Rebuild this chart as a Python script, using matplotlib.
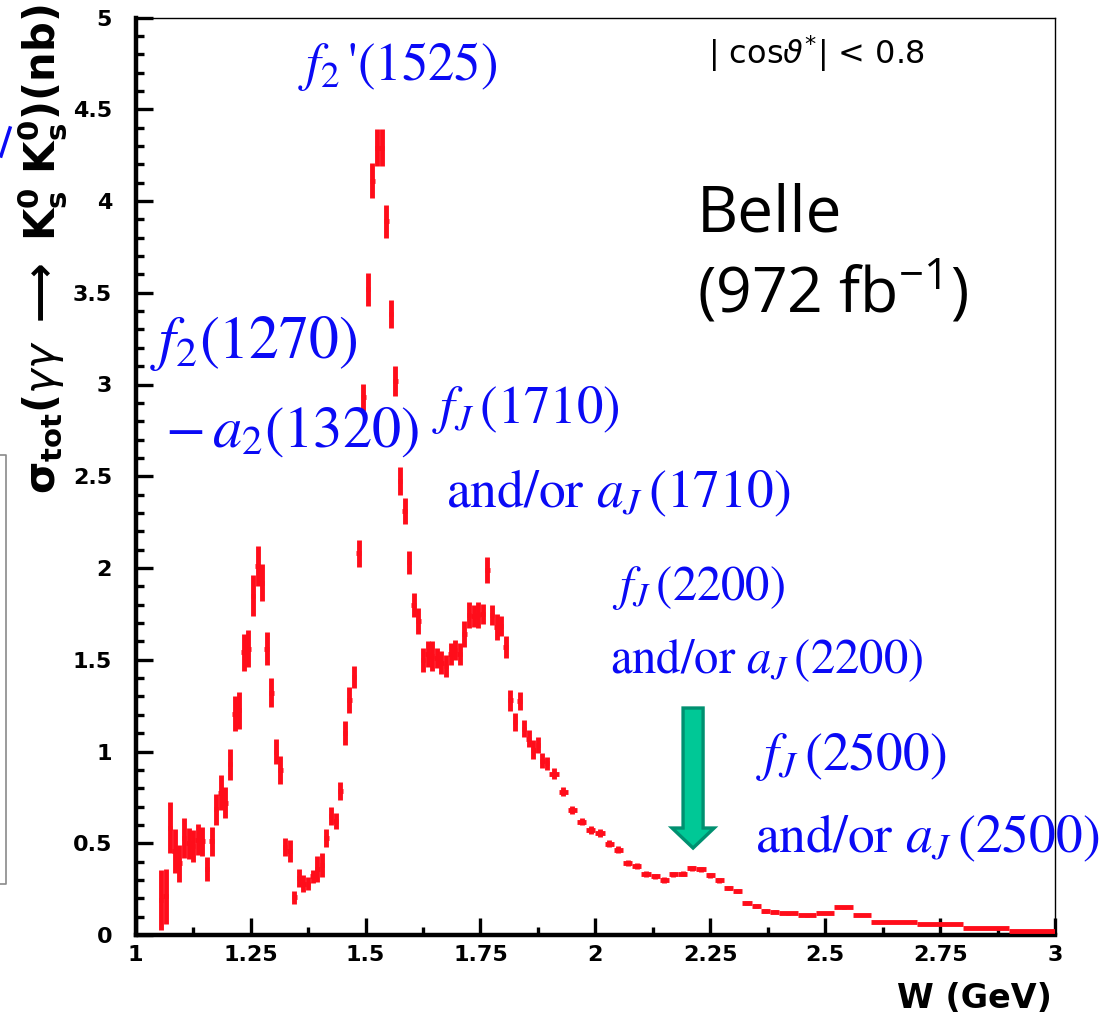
import numpy as np
import matplotlib
matplotlib.use("Agg")
import matplotlib.pyplot as plt
from matplotlib.patches import FancyArrow
from matplotlib.lines import Line2D
from matplotlib.ticker import MultipleLocator

# ---------------------------------------------------------------------------
# Cross section sigma_tot(gg -> KsKs) in nb versus W (GeV), |cos theta*| < 0.8
# Four binning regions: 10, 20, 40 and 100 MeV wide bins.
# ---------------------------------------------------------------------------
w_start_10, w_step_10 = 1.05, 0.01
sigma_10 = [0.19, 0.21, 0.585, 0.46, 0.39, 0.53, 0.50, 0.485, 0.52, 0.51,
            0.36, 0.51, 0.685, 0.775, 0.72, 0.93, 1.205, 1.225, 1.54, 1.56,
            1.85, 2.01, 1.92, 1.56, 1.32, 1.00, 0.90, 0.48, 0.46, 0.205,
            0.31, 0.28, 0.28, 0.32, 0.36, 0.38, 0.53, 0.65, 0.62, 0.785,
            1.10, 1.28, 1.405, 2.08, 2.93, 3.52, 4.11, 4.29, 4.29, 3.89,
            3.385, 3.02, 2.475, 2.31, 2.03, 1.80, 1.71, 1.50, 1.53, 1.52,
            1.51, 1.485, 1.465, 1.53, 1.555, 1.53, 1.64, 1.745, 1.74, 1.745,
            1.75, 1.99, 1.745, 1.68, 1.685, 1.57, 1.28, 1.16, 1.275, 1.125,
            1.07, 1.01, 1.035, 0.95, 0.935]
err_10 = [0.165, 0.15, 0.14, 0.12, 0.10, 0.11, 0.085, 0.085, 0.085, 0.08,
          0.065, 0.08, 0.085, 0.095, 0.085, 0.085, 0.095, 0.10, 0.10, 0.10,
          0.11, 0.11, 0.10, 0.09, 0.08, 0.07, 0.075, 0.05, 0.06, 0.035,
          0.05, 0.045, 0.035, 0.035, 0.07, 0.065, 0.05, 0.05, 0.045, 0.05,
          0.065, 0.07, 0.06, 0.075, 0.075, 0.09, 0.095, 0.10, 0.10, 0.09,
          0.075, 0.08, 0.075, 0.07, 0.06, 0.065, 0.07, 0.065, 0.07, 0.08,
          0.055, 0.06, 0.06, 0.06, 0.055, 0.06, 0.07, 0.07, 0.06, 0.07,
          0.055, 0.07, 0.055, 0.07, 0.055, 0.06, 0.057, 0.05, 0.05, 0.045,
          0.045, 0.05, 0.045, 0.04, 0.035]

w_start_20, w_step_20 = 1.90, 0.02
sigma_20 = [0.88, 0.78, 0.68, 0.617, 0.572, 0.555, 0.497, 0.465, 0.392, 0.378,
            0.332, 0.319, 0.30, 0.332, 0.333, 0.363, 0.358, 0.325, 0.298, 0.257,
            0.241, 0.176, 0.158, 0.13, 0.128]
err_20 = [0.03, 0.025, 0.022, 0.02, 0.02, 0.02, 0.018, 0.018, 0.016, 0.016,
          0.015, 0.015, 0.014, 0.014, 0.014, 0.014, 0.014, 0.013, 0.013, 0.012,
          0.012, 0.011, 0.011, 0.010, 0.010]

w_start_40, w_step_40 = 2.40, 0.04
sigma_40 = [0.118, 0.108, 0.12, 0.15, 0.108]
err_40 = [0.008, 0.008, 0.008, 0.008, 0.007]

w_start_100, w_step_100 = 2.60, 0.10
sigma_100 = [0.073, 0.06, 0.04, 0.022]
err_100 = [0.006, 0.005, 0.005, 0.004]

x_ticks = [1, 1.25, 1.5, 1.75, 2, 2.25, 2.5, 2.75, 3]
x_tick_labels = ["1", "1.25", "1.5", "1.75", "2", "2.25", "2.5", "2.75", "3"]
y_ticks = [0, 0.5, 1, 1.5, 2, 2.5, 3, 3.5, 4, 4.5, 5]
y_tick_labels = ["0", "0.5", "1", "1.5", "2", "2.5", "3", "3.5", "4", "4.5", "5"]

RED = "#ff0d1a"
BLUE = "#0a0af5"

W_PX, H_PX = 1120, 1018
fig = plt.figure(figsize=(W_PX / 100, H_PX / 100), dpi=100)


def fpos(x, y):
    """Pixel position (from top-left) -> figure fraction."""
    return x / W_PX, 1 - y / H_PX


ax_l, ax_r, ax_b, ax_t = 135.7, 1055.0, 935.0, 17.5
ax = fig.add_axes([ax_l / W_PX, 1 - ax_b / H_PX,
                   (ax_r - ax_l) / W_PX, (ax_b - ax_t) / H_PX])


def draw_region(start, step, values, errors):
    centers = start + step * (np.arange(len(values)) + 0.5)
    ax.errorbar(centers, values, xerr=np.full(len(values), step / 2),
                yerr=errors, fmt="none", ecolor=RED, elinewidth=3.5,
                capsize=0, zorder=3)


draw_region(w_start_10, w_step_10, sigma_10, err_10)
draw_region(w_start_20, w_step_20, sigma_20, err_20)
draw_region(w_start_40, w_step_40, sigma_40, err_40)
draw_region(w_start_100, w_step_100, sigma_100, err_100)

ax.set_xlim(1, 3)
ax.set_ylim(0, 5)

for side, lw in (("left", 3.2), ("bottom", 3.2), ("top", 1.0), ("right", 1.0)):
    ax.spines[side].set_linewidth(lw)
    ax.spines[side].set_color("black")

ax.set_xticks(x_ticks, x_tick_labels)
ax.set_yticks(y_ticks, y_tick_labels)
ax.xaxis.set_minor_locator(MultipleLocator(0.125))
ax.yaxis.set_minor_locator(MultipleLocator(0.1))
ax.tick_params(which="both", direction="in", top=False, right=False, width=2.4)
ax.tick_params(which="major", length=12)
ax.tick_params(which="minor", length=6)
ax.tick_params(axis="y", which="major", pad=17)
ax.tick_params(axis="x", which="major", pad=7)
for lab in ax.get_xticklabels() + ax.get_yticklabels():
    lab.set_fontfamily("DejaVu Sans")
    lab.set_fontweight("bold")
    lab.set_fontsize(16)

# Axis titles
fig.text(*fpos(1052, 1008), "W (GeV)", ha="right", va="baseline",
         fontsize=24, fontweight="bold", fontfamily="DejaVu Sans")
fig.text(*fpos(42, 4),
         r"$\mathbf{\sigma_{tot}(}\gamma\gamma\ \mathbf{\longrightarrow\ K^0_s\ K^0_s)(nb)}$",
         rotation=90, ha="center", va="top", fontsize=30,
         math_fontfamily="dejavusans")

# Angular cut and experiment label
fig.text(*fpos(708, 64), r"| cos$\vartheta^{*}$| < 0.8", ha="left",
         va="baseline", fontsize=23, fontfamily="DejaVu Sans",
         math_fontfamily="dejavusans")

plt.rcParams["mathtext.rm"] = "Open Sans"
plt.rcParams["mathtext.it"] = "Open Sans:italic"
plt.rcParams["mathtext.bf"] = "Open Sans:bold"
fig.text(*fpos(697, 232), "Belle", ha="left", va="baseline", fontsize=46,
         fontfamily="Open Sans")
fig.text(*fpos(697, 312), r"(972 fb$^{\mathrm{-1}}$)", ha="left",
         va="baseline", fontsize=45, fontfamily="Open Sans",
         math_fontfamily="custom")

# Resonance labels
serif = dict(color=BLUE, ha="left", va="baseline", fontfamily="STIXGeneral",
             math_fontfamily="stix")
fig.text(*fpos(298, 80), r"$f_2\,$'(1525)", fontsize=38, **serif)
fig.text(*fpos(150, 358), r"$f_2$(1270)", fontsize=43, **serif)
fig.text(*fpos(165, 447), r"$-\,a_2$(1320)", fontsize=42, **serif)
fig.text(*fpos(432, 423), r"$f_J\,$(1710)", fontsize=38, **serif)
fig.text(*fpos(446, 507), r"and/or $a_J\,$(1710)", fontsize=38.5, **serif)
fig.text(*fpos(612, 600), r"$f_J\,$(2200)", fontsize=35, **serif)
fig.text(*fpos(610, 673), r"and/or $a_J\,$(2200)", fontsize=35, **serif)
fig.text(*fpos(756, 770), r"$f_J\,$(2500)", fontsize=38.5, **serif)
fig.text(*fpos(755, 852), r"and/or $a_J\,$(2500)", fontsize=38.5, **serif)

# Arrow pointing at the 2.2 GeV structure
ax.add_patch(FancyArrow(2.2126, 1.237, 0, -0.763, width=0.0436,
                        head_width=0.0916, head_length=0.109,
                        length_includes_head=True, facecolor="#00c896",
                        edgecolor="#009070", linewidth=2.4, zorder=4))

# Edge of the neighbouring panel on the left
pad_color = "#8a8a8a"
fig.add_artist(Line2D([0.0, 6 / W_PX, 6 / W_PX, 0.0],
                      [1 - 455 / H_PX, 1 - 455 / H_PX, 1 - 884 / H_PX, 1 - 884 / H_PX],
                      color=pad_color, linewidth=1.2, transform=fig.transFigure))
fig.add_artist(Line2D([1 / W_PX, 10 / W_PX], [1 - 156 / H_PX, 1 - 128 / H_PX],
                      color=BLUE, linewidth=2.5, transform=fig.transFigure))

fig.savefig("out.png", dpi=100)
